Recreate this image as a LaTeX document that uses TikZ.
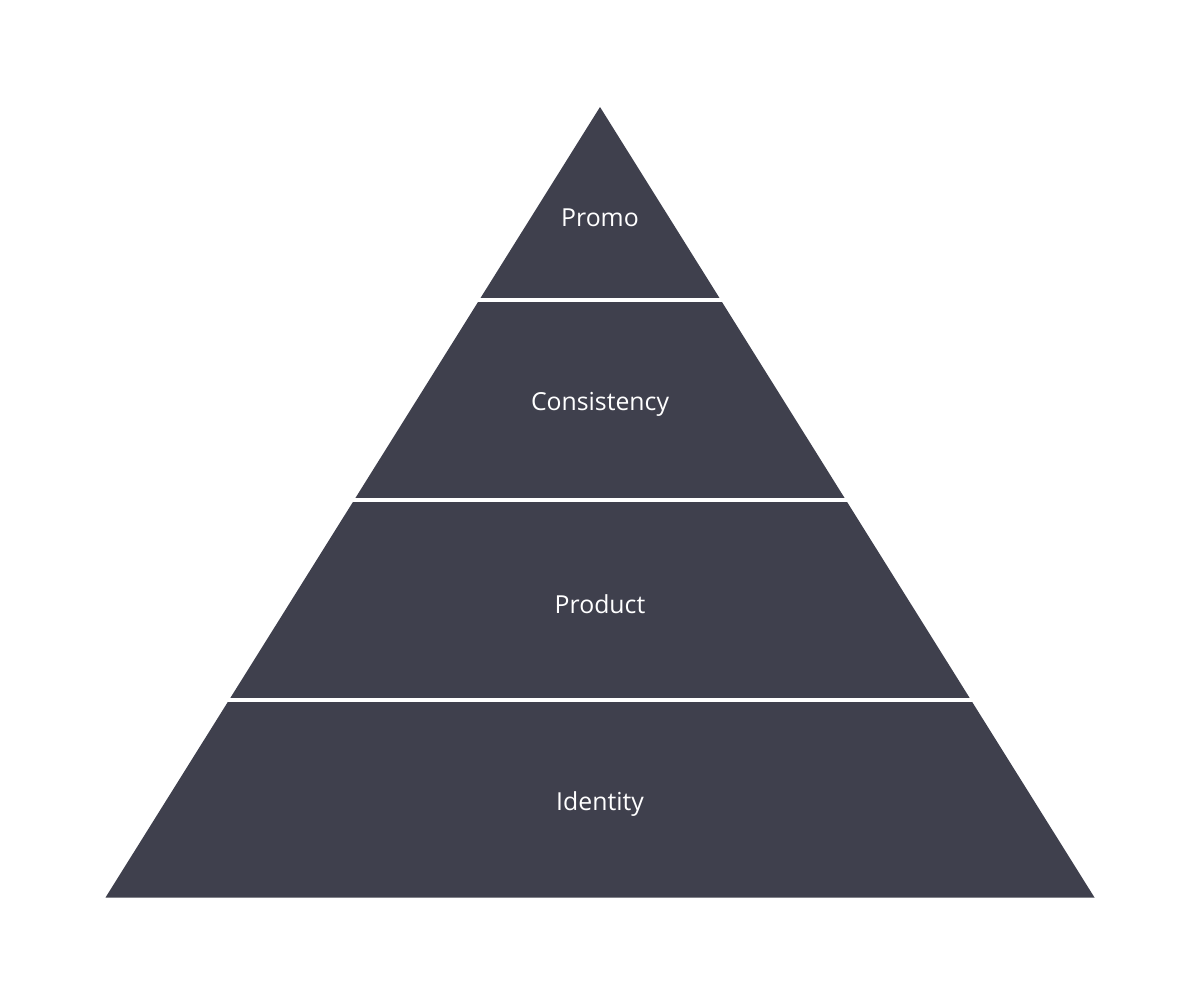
\documentclass[tikz,border=0pt]{standalone}
\usepackage{fontspec}
\setmainfont{Open Sans}
\usetikzlibrary{positioning}
\definecolor{slate}{RGB}{63,64,77}

\begin{document}
\begin{tikzpicture}[x=0.5pt,y=-0.5pt]
        \useasboundingbox (0,0) rectangle (1200,1001);
        \fill[slate] (600,107) -- (1094.5,897.5) -- (105.5,897.5) -- cycle;
        \foreach \y in {300,500,700} {
            \fill[white] (0,\y-1.8) rectangle (1200,\y+1.8);
        }
        \foreach \name/\y/\lbl in {promo/218/Promo, consistency/404/Consistency, product/604/Product, identity/804/Identity} {
            \node[text=white,font=\fontsize{12.4}{14}\selectfont] (\name) at (600,\y) {\lbl};
        }
    \end{tikzpicture}
\end{document}
